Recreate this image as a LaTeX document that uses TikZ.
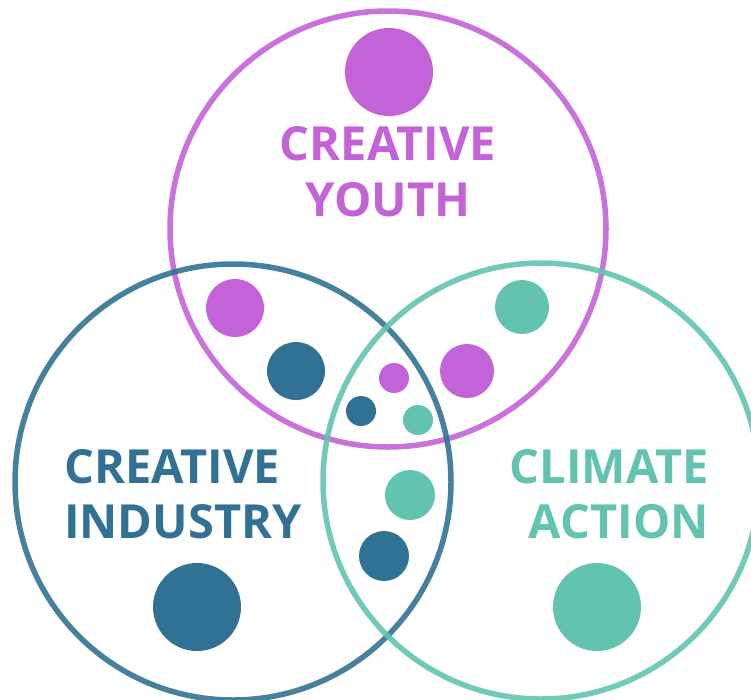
\documentclass[tikz,border=0pt]{standalone}
\usepackage{fontspec}
\setmainfont{Open Sans}
\usetikzlibrary{positioning}
\definecolor{youth}{HTML}{C462D8}
\definecolor{industry}{HTML}{317294}
\definecolor{climate}{HTML}{62C3B0}

\begin{document}
\begin{tikzpicture}[x=1pt,y=-1pt,
    ring/.style={line width=5.5pt,draw opacity=0.9},
    label/.style={inner sep=0pt,font=\fontsize{47}{56}\selectfont\bfseries}]
    \useasboundingbox (0,0) rectangle (751,699);
    \draw[ring,youth] (388,229) circle (218);
    \draw[ring,industry] (233,482) circle (218);
    \draw[ring,climate] (541,481) circle (218);

    \fill[youth] (389,72) circle (44);
    \fill[industry] (197,607) circle (44);
    \fill[climate] (597,607) circle (44);

    \fill[youth] (235,308) circle (29);
    \fill[industry] (296,371) circle (29);
    \fill[climate] (522,307) circle (27);
    \fill[youth] (467,371) circle (27);
    \fill[climate] (410,495) circle (25);
    \fill[industry] (384,556) circle (25);

    \fill[youth] (394,378) circle (15);
    \fill[industry] (361,411) circle (15);
    \fill[climate] (418,420) circle (15);

    \node (youthA) [label,youth,anchor=base] at (388,160) {CREATIVE};
    \node (youthB) [label,youth,anchor=base] at (388,216) {YOUTH};
    \node (industryA) [label,industry,anchor=base west] at (64,483) {CREATIVE};
    \node (industryB) [label,industry,anchor=base west] at (64,538) {INDUSTRY};
    \node (climateA) [label,climate,anchor=base east] at (709,483) {CLIMATE};
    \node (climateB) [label,climate,anchor=base east] at (709,538) {ACTION};
\end{tikzpicture}
\end{document}
